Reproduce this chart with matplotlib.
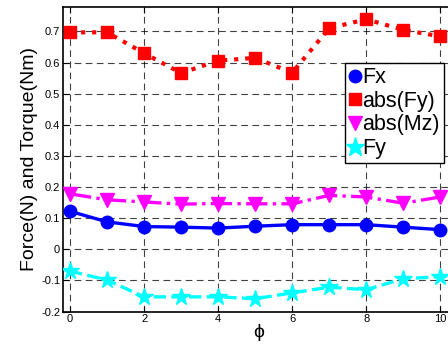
import matplotlib.pyplot as plt
from matplotlib.lines import Line2D

phi = [0, 1, 2, 3, 4, 5, 6, 7, 8, 9, 10]
fx = [0.122, 0.088, 0.073, 0.071, 0.068, 0.074, 0.079, 0.079, 0.079, 0.071, 0.063]
abs_fy = [0.697, 0.697, 0.630, 0.566, 0.606, 0.615, 0.567, 0.710, 0.739, 0.705, 0.684]
abs_mz = [0.178, 0.159, 0.152, 0.145, 0.147, 0.146, 0.146, 0.173, 0.168, 0.148, 0.168]
fy = [-0.070, -0.099, -0.153, -0.153, -0.153, -0.159, -0.140, -0.122, -0.130, -0.095, -0.088]
labels = ['Fx', 'abs(Fy)', 'abs(Mz)', 'Fy']

plt.rcParams['font.family'] = ['Liberation Sans', 'DejaVu Sans']

dpi = 100
fig = plt.figure(figsize=(448 / dpi, 348 / dpi), dpi=dpi)
ax = fig.add_axes([63 / 448, 36.5 / 348, 392 / 448, 305 / 348])

ax.plot(phi, fx, color='#0000ff', ls='-', lw=2.4, marker='o', ms=9, zorder=3)
ax.plot(phi, abs_fy, color='#ff0000', ls=':', lw=3, marker='s', ms=9, zorder=3)
ax.plot(phi, abs_mz, color='#ff00ff', ls='-.', lw=2.4, marker='v', ms=10, zorder=3)
ax.plot(phi, fy, color='#00ffff', ls='--', lw=2.4, marker='*', ms=13, zorder=3)

ax.set_xlim(-0.19, 10.4)
ax.set_ylim(-0.2, 0.78)
ax.set_xticks([0, 2, 4, 6, 8, 10])
ax.set_yticks([-0.2, -0.1, 0, 0.1, 0.2, 0.3, 0.4, 0.5, 0.6, 0.7])
ax.set_yticklabels(['-0.2', '-0.1', '0', '0.1', '0.2', '0.3', '0.4', '0.5', '0.6', '0.7'])
ax.tick_params(direction='in', labelsize=8, length=4, top=True, right=True, pad=2)
ax.grid(True, color='black', ls=(0, (6, 4)), lw=0.8, alpha=0.75)
for s in ax.spines.values():
    s.set_linewidth(1.2)

ax.set_xlabel('ϕ', fontsize=14, labelpad=0)
ax.set_ylabel('Force(N) and Torque(Nm)', fontsize=14, labelpad=2)

handles = [
    Line2D([], [], color='#0000ff', ls='none', marker='o', ms=9),
    Line2D([], [], color='#ff0000', ls='none', marker='s', ms=8),
    Line2D([], [], color='#ff00ff', ls='none', marker='v', ms=10),
    Line2D([], [], color='#00ffff', ls='none', marker='*', ms=14),
]
leg = ax.legend(handles, labels, loc='upper left', bbox_to_anchor=(345 / 448, 1 - 63 / 348),
                bbox_transform=fig.transFigure, fontsize=15.5, handlelength=0.5,
                handletextpad=0.1, borderpad=0.2, labelspacing=0.12, fancybox=False,
                framealpha=1, borderaxespad=0)
leg.get_frame().set_edgecolor('black')
leg.get_frame().set_linewidth(1.0)

fig.savefig('out.png', dpi=dpi)
